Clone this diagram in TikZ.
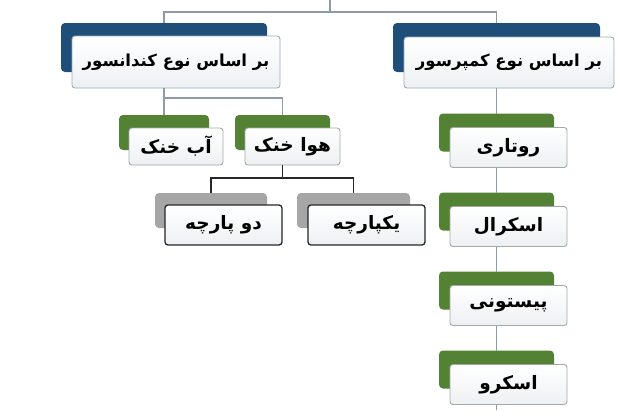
\documentclass[tikz,border=0pt]{standalone}
\usepackage{fontspec}
\newfontfamily\arabicfont[Script=Arabic]{DejaVu Sans}
\TeXXeTstate=1
\definecolor{blueback}{HTML}{1F4E79}
\definecolor{greenback}{HTML}{548235}
\definecolor{grayback}{HTML}{A6A6A6}
\definecolor{bluerim}{HTML}{9AAABB}
\definecolor{greenrim}{HTML}{A3ABA0}
\definecolor{linegray}{HTML}{8D9BA8}
\definecolor{frontbottom}{HTML}{EDF0F3}
\tikzset{
  backbox/.style={rounded corners=4pt, inner sep=0pt, outer sep=0pt},
  frontbox/.style={rounded corners=3pt, top color=white, bottom color=frontbottom,
    inner sep=0pt, outer sep=0pt, line width=0.9pt, text=black},
  bigtext/.style={font=\arabicfont\bfseries\fontsize{16.5}{19}\selectfont},
  smalltext/.style={font=\arabicfont\bfseries\fontsize{18.5}{21}\selectfont},
  conn/.style={draw=linegray, line width=1.1pt},
  darkconn/.style={draw=black!85, line width=1.1pt},
}
\begin{document}
\begin{tikzpicture}[x=1pt,y=-1pt]
\useasboundingbox[fill=white] (0,0) rectangle (620,410);

% top level
\node[backbox, fill=blueback, minimum width=206pt, minimum height=49pt] (condback) at (164,47.5) {};
\node[backbox, fill=blueback, minimum width=207pt, minimum height=49pt] (compback) at (496.5,47.5) {};

\coordinate (topend) at (330,0);
\coordinate (tj) at (330,12);
\draw[conn] (topend) -- (tj);
\draw[conn] (condback.north) |- (tj) -| (compback.north);

% left branch back boxes
\node[backbox, fill=greenback, minimum width=90pt, minimum height=35pt] (abback) at (164,132.5) {};
\node[backbox, fill=greenback, minimum width=95pt, minimum height=35pt] (havaback) at (282.5,132.5) {};
\node[backbox, fill=grayback, minimum width=112pt, minimum height=35pt] (doback) at (211,210.5) {};
\node[backbox, fill=grayback, minimum width=113pt, minimum height=35pt] (yekback) at (353.5,210.5) {};

% right column back boxes
\node[backbox, fill=greenback, minimum width=115pt, minimum height=38pt] (r1back) at (496.5,132.5) {};
\node[backbox, fill=greenback, minimum width=115pt, minimum height=38pt] (r2back) at (496.5,211.5) {};
\node[backbox, fill=greenback, minimum width=115pt, minimum height=38pt] (r3back) at (496.5,290.5) {};
\node[backbox, fill=greenback, minimum width=115pt, minimum height=38pt] (r4back) at (496.5,369.5) {};

% front boxes
\node[frontbox, draw=bluerim, bigtext, minimum width=208pt, minimum height=52pt] (cond) at (176,62) {\beginR بر اساس نوع کندانسور\endR};
\node[frontbox, draw=bluerim, bigtext, minimum width=210pt, minimum height=51pt] (comp) at (509,62.5) {\beginR بر اساس نوع کمپرسور\endR};

\node[frontbox, draw=greenrim, smalltext, minimum width=94pt, minimum height=37pt] (ab) at (176,146.5) {\beginR آب خنک\endR};
\node[frontbox, draw=greenrim, smalltext, minimum width=95pt, minimum height=37pt] (hava) at (292.5,146.5) {\beginR هوا خنک\endR};

\node[frontbox, draw=black!85, line width=1.3pt, smalltext, minimum width=117pt, minimum height=40pt] (do) at (223.5,225) {\beginR دو پارچه\endR};
\node[frontbox, draw=black!85, line width=1.3pt, smalltext, minimum width=117pt, minimum height=40pt] (yek) at (366.5,225) {\beginR یکپارچه\endR};

\node[frontbox, draw=greenrim, smalltext, minimum width=117pt, minimum height=40pt] (r1) at (508.5,147.5) {\beginR روتاری\endR};
\node[frontbox, draw=greenrim, smalltext, minimum width=117pt, minimum height=40pt] (r2) at (508.5,226.5) {\beginR اسکرال\endR};
\node[frontbox, draw=greenrim, smalltext, minimum width=117pt, minimum height=40pt] (r3) at (508.5,305.5) {\beginR پیستونی\endR};
\node[frontbox, draw=greenrim, smalltext, minimum width=117pt, minimum height=40pt] (r4) at (508.5,384.5) {\beginR اسکرو\endR};

% left branch connectors
\coordinate (lj) at (164,98);
\draw[conn] (cond.south -| condback.center) -- (abback.north);
\draw[conn] (lj) -| (havaback.north);

\coordinate (hj) at (282.5,178);
\draw[darkconn] (hava.south -| havaback.center) -- (hj);
\draw[darkconn] (doback.north) |- (hj) -| (yekback.north);

% right column connectors
\coordinate (bottomend) at (496.5,410);
\draw[conn] (comp.south -| compback.center) -- (r1back.north);
\draw[conn] (r1.south -| r1back.center) -- (r2back.north);
\draw[conn] (r2.south -| r2back.center) -- (r3back.north);
\draw[conn] (r3.south -| r3back.center) -- (r4back.north);
\draw[conn] (r4.south -| r4back.center) -- (bottomend);
\end{tikzpicture}
\end{document}
